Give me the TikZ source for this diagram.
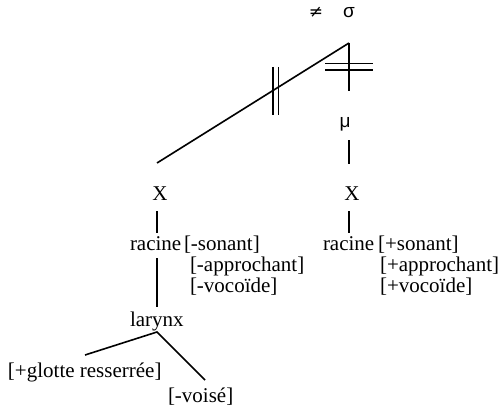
\documentclass[tikz,border=0pt]{standalone}
\usepackage{fontspec}
\setmainfont{Liberation Serif}
\newfontfamily\symfont{Liberation Sans}
\newfontfamily\neqfont{DejaVu Sans}
\begin{document}
\begin{tikzpicture}[x=1pt,y=-1pt,
  txt/.style={inner sep=0pt,outer sep=0pt,font=\fontsize{21}{24}\selectfont},
  lft/.style={txt,anchor=base west},
  ctr/.style={txt,anchor=base},
  ln/.style={line width=1.6pt},
  bar/.style={line width=1.7pt}]
\useasboundingbox (0,0) rectangle (502,409);
% top
\node[ctr,font=\fontsize{17}{20}\selectfont\neqfont] (neq) at (316,18) {≠};
\node[ctr,font=\fontsize{19}{22}\selectfont\symfont] (sig) at (349,18) {σ};
\coordinate (apex) at (349,43);
\coordinate (mutop) at (349,91);
\node[ctr,font=\fontsize{19}{22}\selectfont\symfont] (mu) at (345,127) {μ};
\coordinate (mub1) at (349,140);
\coordinate (mub2) at (349,164);
\coordinate (diagend) at (157,163);
\draw[ln] (apex) -- (diagend);
\draw[ln] (apex) -- (mutop);
\draw[ln] (mub1) -- (mub2);
% delinking bars
\coordinate (h1a) at (325,63.5); \coordinate (h1b) at (373,63.5);
\coordinate (h2a) at (325,70);   \coordinate (h2b) at (373,70);
\draw[bar] (h1a) -- (h1b); \draw[bar] (h2a) -- (h2b);
\coordinate (v1a) at (273,67); \coordinate (v1b) at (273,115);
\coordinate (v2a) at (278.5,67); \coordinate (v2b) at (278.5,115);
\draw[bar] (v1a) -- (v1b); \draw[bar] (v2a) -- (v2b);
% left column
\node[ctr] (XL) at (160,200) {X};
\node[lft] (racL) at (130,250) {racine};
\node[lft] (sonL) at (184,250) {[-sonant]};
\node[lft] (appL) at (190,271) {[-approchant]};
\node[lft] (vocL) at (190,292) {[-vocoïde]};
\node[lft] (lar) at (130,326) {larynx};
\node[lft] (glo) at (8,377) {[+glotte resserrée]};
\node[lft] (voi) at (168,402) {[-voisé]};
\coordinate (l1a) at (157,211); \coordinate (l1b) at (157,233);
\coordinate (l2a) at (157,258); \coordinate (l2b) at (157,307);
\coordinate (br) at (157,332);
\coordinate (brg) at (85,355);
\coordinate (brv) at (205,380);
\draw[ln] (l1a) -- (l1b);
\draw[ln] (l2a) -- (l2b);
\draw[ln] (brg) -- (br) -- (brv);
% right column
\node[ctr] (XR) at (352,200) {X};
\node[lft] (racR) at (323,250) {racine};
\node[lft] (sonR) at (378,250) {[+sonant]};
\node[lft] (appR) at (380,271) {[+approchant]};
\node[lft] (vocR) at (380,292) {[+vocoïde]};
\coordinate (r1a) at (349,211); \coordinate (r1b) at (349,233);
\draw[ln] (r1a) -- (r1b);
\end{tikzpicture}
\end{document}
